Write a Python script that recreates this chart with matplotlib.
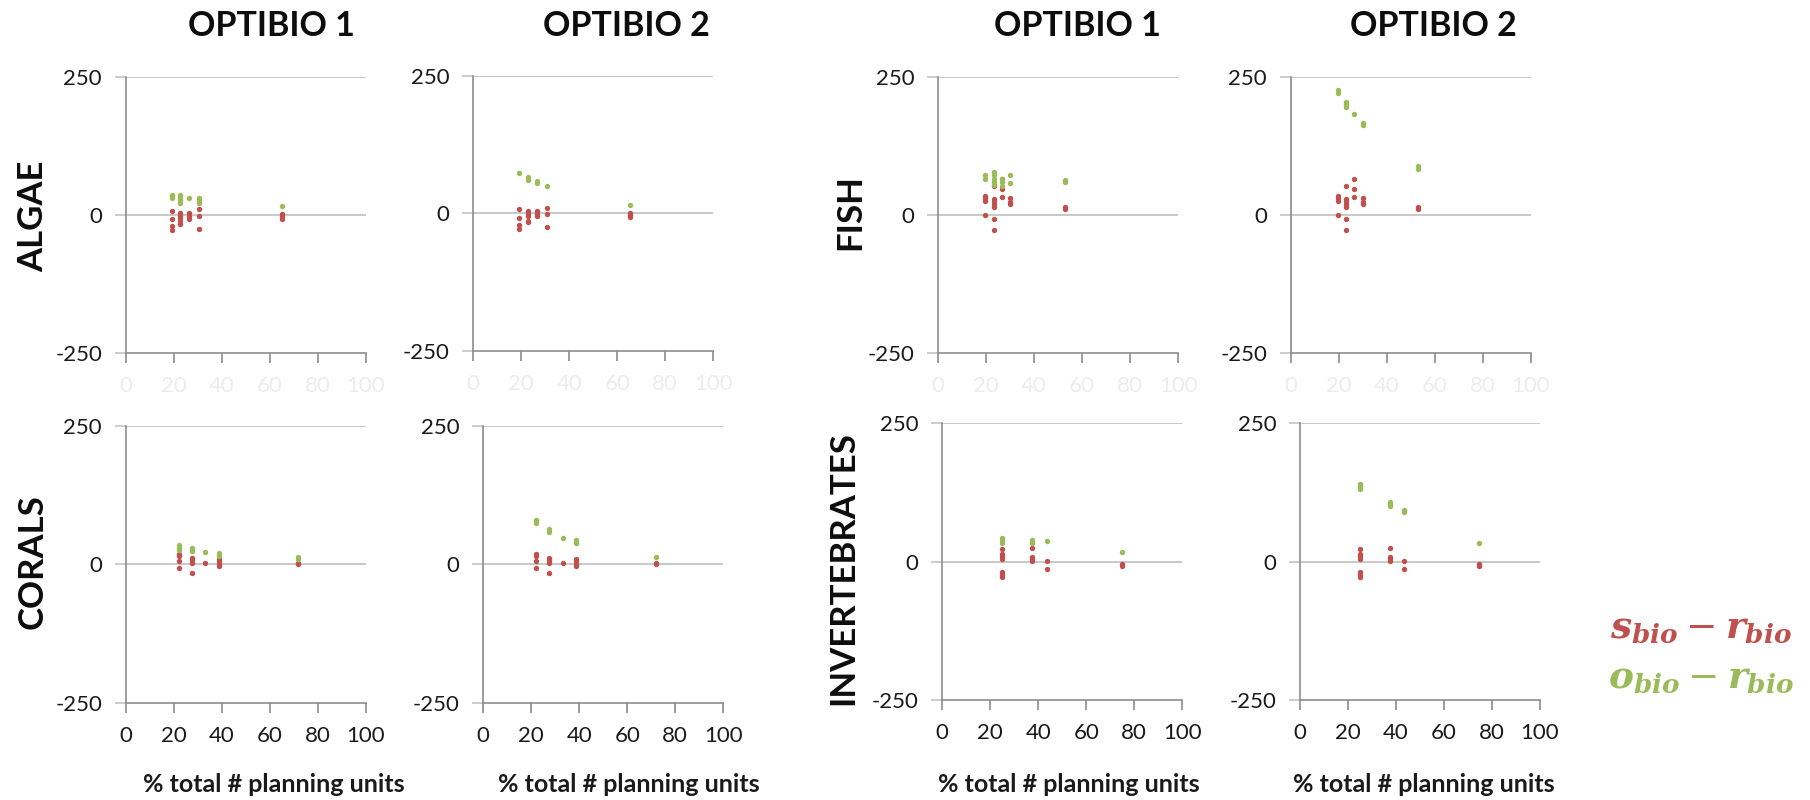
import matplotlib
matplotlib.use("Agg")
import matplotlib.pyplot as plt

plt.rcParams["font.family"] = ["Lato", "DejaVu Sans"]
plt.rcParams["axes.unicode_minus"] = False
plt.rcParams["mathtext.fontset"] = "custom"
plt.rcParams["mathtext.it"] = "DejaVu Serif:italic:bold"
plt.rcParams["mathtext.rm"] = "DejaVu Serif"
plt.rcParams["mathtext.bf"] = "DejaVu Serif:bold"

# ---- data: x = % of total planning units, values grouped by x column ----
algae_x = [19.2, 22.8, 26.5, 30.7, 65.3]
algae_opt1_s = [[7, -8, -20, -28], [4, -1, -5, -11, -16], [4, -1, -7], [10, -2, -25], [1, -4, -7]]
algae_opt1_o = [[37, 34, 30], [37, 33, 28, 22], [31], [30, 25, 21], [16]]
algae_opt2_s = [[7, -8, -21, -28], [4, -1, -5, -13, -16], [4, -1, -5], [10, -2, -25], [1, -3, -7]]
algae_opt2_o = [[74], [66, 61], [58, 55], [49], [16]]

fish_x = [19.7, 23.2, 26.5, 30.0, 53.0]
fish_s = [[35, 31, 25, 0], [53, 29, 25, 19, 14, -7, -28], [65, 47, 32], [31, 23, 19], [14, 10]]
fish_opt1_o = [[72, 65], [77, 72, 65, 59, 55], [65, 59, 53], [72, 58], [64, 60]]
fish_opt2_o = [[226, 221], [205, 200, 196], [182], [167, 162], [88, 84]]

coral_x = [22.1, 27.5, 33.1, 38.7, 71.9]
coral_s = [[19, 15, 5, -7], [11, 7, 3, -16], [3], [10, 6, 0, -4], [3, 0]]
coral_opt1_o = [[35, 30, 26], [30, 26, 23], [22], [21, 17, 14], [13, 9]]
coral_opt2_o = [[79, 74], [64, 59], [48], [44, 39], [13]]

invert_x = [24.8, 37.5, 43.5, 74.7]
invert_s = [[22, 14, 10, 5, -19, -25, -28], [25, 8, 4, 1], [2, -14], [-5, -8]]
invert_opt1_o = [[42, 37, 34], [39, 34], [37], [18]]
invert_opt2_o = [[140, 136, 132], [108, 104, 100], [93, 90], [34]]

col_titles = ["OPTIBIO 1", "OPTIBIO 2"]
x_ticks = [0, 20, 40, 60, 80, 100]
y_ticks = [-250, 0, 250]
x_label = "% total # planning units"

RED = "#C0504D"
GREEN = "#9BBB59"
GRID = "#C4C4C4"
AXIS = "#8C8C8C"

W, H = 1810, 800
fig = plt.figure(figsize=(W / 100, H / 100), dpi=100)


def add_panel(left, right, top, bottom):
    return fig.add_axes([left / W, 1 - bottom / H, (right - left) / W, (bottom - top) / H])


def flatten(xs, groups):
    px, py = [], []
    for x, g in zip(xs, groups):
        for v in g:
            px.append(x)
            py.append(v)
    return px, py


panels = [
    # (pixel box, x columns, s-r values, o-r values, bottom row?)
    ((125.7, 365.7, 76.7, 353.3), algae_x, algae_opt1_s, algae_opt1_o, False),
    ((473.3, 713.3, 75.7, 351.0), algae_x, algae_opt2_s, algae_opt2_o, False),
    ((938.0, 1178.3, 76.7, 353.3), fish_x, fish_s, fish_opt1_o, False),
    ((1290.7, 1530.7, 76.7, 353.3), fish_x, fish_s, fish_opt2_o, False),
    ((125.7, 365.7, 425.7, 702.7), coral_x, coral_s, coral_opt1_o, True),
    ((483.3, 723.3, 425.7, 702.7), coral_x, coral_s, coral_opt2_o, True),
    ((942.3, 1182.3, 423.3, 700.0), invert_x, invert_s, invert_opt1_o, True),
    ((1300.0, 1540.0, 423.3, 700.0), invert_x, invert_s, invert_opt2_o, True),
]

for box, xs, s_vals, o_vals, bottom_row in panels:
    ax = add_panel(*box)
    ax.set_xlim(0, 100)
    ax.set_ylim(-250, 250)
    ax.set_xticks(x_ticks)
    ax.set_yticks(y_ticks)
    for yv in (0, 250):
        ax.axhline(yv, color=GRID, lw=1.3, zorder=1)
    for side in ("top", "right"):
        ax.spines[side].set_visible(False)
    for side in ("left", "bottom"):
        ax.spines[side].set_color(AXIS)
        ax.spines[side].set_linewidth(1.2)
    ax.tick_params(axis="both", direction="out", length=7.5, width=1.2, color=AXIS,
                   labelsize=16, pad=9)
    ax.tick_params(axis="y", length=8, colors="#1a1a1a", color=GRID)
    ax.tick_params(axis="x", labelcolor="#1a1a1a" if bottom_row else "#ececec")
    sx, sy = flatten(xs, s_vals)
    ox, oy = flatten(xs, o_vals)
    ax.scatter(sx, sy, s=15, color=RED, linewidths=0, zorder=3, clip_on=False)
    ax.scatter(ox, oy, s=15, color=GREEN, linewidths=0, zorder=4, clip_on=False)

# x-axis captions under the bottom row
for cx in [274, 629, 1069, 1424]:
    fig.text(cx / W, 1 - 785 / H, x_label, ha="center", va="center",
             fontsize=18, fontweight="bold", color="#1a1a1a")

# column titles
for cx, t in zip([271, 626, 1077, 1433], col_titles * 2):
    fig.text(cx / W, 1 - 26 / H, t, ha="center", va="center",
             fontsize=24.5, fontweight="bold", color="#0d0d0d")

# row titles
for (cx, cy), t in zip([(33, 216), (850, 212), (33, 562), (843, 568)],
                       ["ALGAE", "FISH", "CORALS", "INVERTEBRATES"]):
    fig.text(cx / W, 1 - cy / H, t, ha="center", va="center", rotation=90,
             fontsize=25, fontweight="bold", color="#0d0d0d")

# series key
fig.text(1701 / W, 1 - 627 / H, r"$s_{bio} - r_{bio}$", ha="center", va="center",
         fontsize=27, color=RED)
fig.text(1701 / W, 1 - 677 / H, r"$o_{bio} - r_{bio}$", ha="center", va="center",
         fontsize=27, color=GREEN)

fig.savefig("out.png", dpi=100, facecolor="white")
